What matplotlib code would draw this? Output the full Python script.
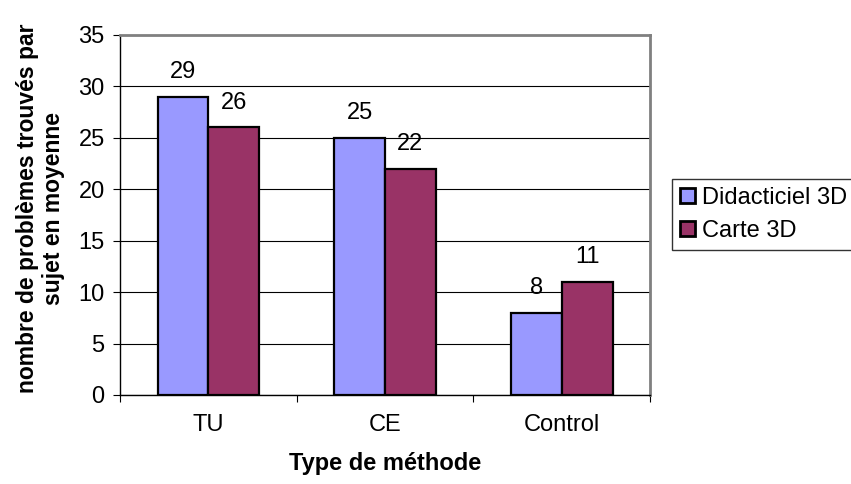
import numpy as np
import matplotlib.pyplot as plt

plt.rcParams['font.family'] = ['Liberation Sans', 'DejaVu Sans']

methods = ['TU', 'CE', 'Control']
didacticiel = [29, 25, 8]
carte = [26, 22, 11]

fig = plt.figure(figsize=(8.51, 4.84), dpi=100)
ax = fig.add_axes([0.141, 0.184, 0.623, 0.744])

x = np.arange(len(methods))
w = 0.287
b1 = ax.bar(x - w / 2, didacticiel, w, color='#9999FF', edgecolor='black', linewidth=1.6,
            label='Didacticiel 3D', zorder=3)
b2 = ax.bar(x + w / 2, carte, w, color='#993366', edgecolor='black', linewidth=1.6,
            label='Carte 3D', zorder=3)
for bars in (b1, b2):
    for r in bars:
        ax.annotate(str(int(r.get_height())), (r.get_x() + r.get_width() / 2, r.get_height()),
                    xytext=(0, 10), textcoords='offset points', ha='center', va='bottom',
                    fontsize=17)

ax.set_xlim(-0.5, 2.5)
ax.set_ylim(0, 35)
ax.set_yticks(np.arange(0, 36, 5))
ax.yaxis.grid(True, color='black', linewidth=0.8, zorder=0)
ax.set_xticks(x)
ax.set_xticklabels(methods, fontsize=17)
ax.set_xticks(np.arange(-0.5, 3, 1), minor=True)
ax.tick_params(axis='x', which='major', length=0, pad=14)
ax.tick_params(axis='x', which='minor', length=5, width=0.8, direction='out')
ax.tick_params(axis='y', labelsize=17, length=5, width=0.8, direction='out', pad=6)

for s in ['top', 'right']:
    ax.spines[s].set_color('#808080')
    ax.spines[s].set_linewidth(2)
for s in ['left', 'bottom']:
    ax.spines[s].set_color('black')
    ax.spines[s].set_linewidth(1)

ax.set_xlabel('Type de méthode', fontsize=17, fontweight='bold', labelpad=11)
ax.set_ylabel('nombre de problèmes trouvés par\nsujet en moyenne', fontsize=16.5,
              fontweight='bold', linespacing=1.15)
ax.yaxis.set_label_coords(-0.104, 0.519)

leg = ax.legend(loc='center left', bbox_to_anchor=(1.0415, 0.501), fontsize=17,
                frameon=True, fancybox=False, edgecolor='black', handlelength=0.6,
                handleheight=0.6, handletextpad=0.3, borderpad=0.35, labelspacing=0.45,
                borderaxespad=0)
leg.get_frame().set_linewidth(1)
for h in leg.legend_handles:
    h.set_linewidth(2)

fig.savefig('out.png', dpi=100)
